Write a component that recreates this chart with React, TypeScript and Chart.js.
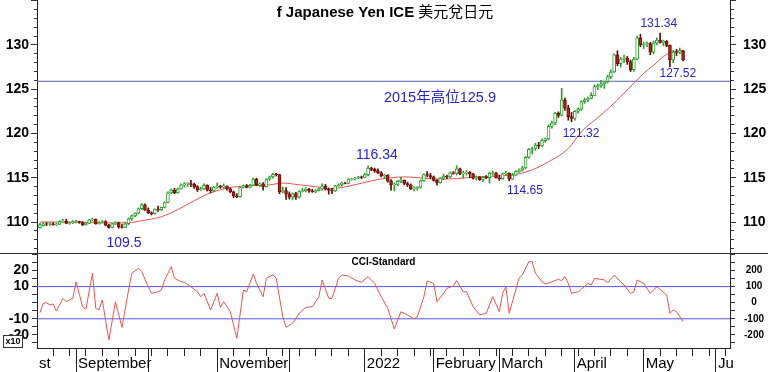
import React, { useEffect, useRef } from 'react';
import { Chart, registerables } from 'chart.js';

Chart.register(...registerables);

// x values: weekday index counted from Wed 1 Sep 2021 (= 0)
const FIRST_DAY = -11;
const X_MIN = -11.9;
const X_MAX = 199.3;

const TITLE_LATIN = 'f Japanese Yen ICE ';
const TITLE_CJK = '美元兌日元';
const CCI_TITLE = 'CCI-Standard';

const opens = [
  109.35, 109.6, 109.8, 109.75, 109.8, 109.7, 109.75, 110.05, 110.1, 109.85, 109.9,
  109.95, 110.05, 109.95, 109.7, 109.85, 110.25, 110.3, 109.8, 109.95, 110.05,
  109.65, 109.4, 109.8, 109.95, 109.45, 109.4, 109.8, 110.35, 110.7, 111.0,
  111.5, 111.95, 111.35, 111.05, 110.95, 111.45, 111.4, 111.65, 112.2, 113.3,
  113.6, 113.3, 113.75, 114.2, 114.3, 114.35, 114.25, 114.0, 113.65, 113.75,
  114.15, 113.6, 113.5, 113.95, 114.05, 113.95, 114.05, 113.75, 113.4, 112.95,
  112.85, 113.9, 114.1, 113.9, 114.15, 114.85, 114.2, 114.3, 114.0, 114.85,
  115.1, 115.4, 115.35, 113.4, 113.55, 113.15, 112.8, 113.2, 112.8, 113.45,
  113.55, 113.7, 113.5, 113.4, 113.55, 113.75, 114.05, 113.7, 113.6, 113.5,
  114.1, 114.2, 114.4, 114.35, 114.8, 114.85, 114.95, 115.1, 115.05, 115.35,
  116.1, 115.95, 115.8, 115.55, 115.2, 115.3, 114.65, 114.2, 114.25, 114.6,
  114.7, 114.35, 114.2, 113.75, 113.85, 113.95, 114.65, 115.35, 115.25, 115.1,
  114.7, 114.45, 114.95, 115.2, 115.1, 115.55, 115.5, 116.0, 115.45, 115.55,
  115.65, 115.45, 114.95, 115.05, 114.75, 115.05, 115.0, 115.5, 115.55, 115.0,
  114.9, 115.45, 115.5, 114.85, 115.3, 115.7, 115.85, 116.1, 117.3, 118.2,
  118.3, 118.7, 118.6, 119.2, 119.4, 120.8, 121.2, 122.3, 122.05, 123.8,
  122.85, 121.9, 121.7, 122.5, 122.75, 123.6, 123.8, 123.95, 124.3, 125.3,
  125.4, 125.6, 125.85, 126.4, 126.95, 128.9, 127.9, 128.4, 128.5, 128.1,
  127.2, 128.4, 130.8, 130.0, 130.05, 130.15, 129.2, 130.2, 130.55, 130.3,
  130.4, 129.95, 128.3, 129.2, 129.15, 129.35,
];

const highs = [
  109.85, 109.95, 109.95, 109.95, 109.95, 109.9, 110.15, 110.3, 110.3, 110.0, 110.15,
  110.2, 110.1, 110.05, 109.95, 110.3, 110.45, 110.35, 110.05, 110.15, 110.15,
  109.75, 109.85, 110.05, 110.0, 109.75, 110.0, 110.45, 110.8, 111.05, 111.6,
  112.1, 112.05, 111.6, 111.15, 111.5, 111.8, 111.7, 112.3, 113.4, 113.75,
  113.8, 113.85, 114.3, 114.45, 114.45, 114.7, 114.4, 114.1, 113.95, 114.3,
  114.2, 113.9, 114.0, 114.4, 114.15, 114.3, 114.1, 113.85, 113.5, 113.2,
  114.0, 114.2, 114.25, 114.25, 114.95, 114.95, 114.4, 114.45, 114.9, 115.2,
  115.5, 115.5, 115.4, 113.95, 113.9, 113.4, 113.3, 113.35, 113.55, 113.8,
  113.9, 113.8, 113.7, 113.65, 113.85, 114.3, 114.25, 113.85, 113.8, 114.15,
  114.3, 114.5, 114.5, 114.9, 114.95, 115.05, 115.15, 115.2, 115.5, 116.35,
  116.2, 116.1, 116.0, 115.7, 115.4, 115.35, 114.8, 114.4, 114.7, 115.05,
  114.75, 114.5, 114.3, 114.0, 114.0, 114.75, 115.45, 115.7, 115.5, 115.2,
  114.8, 115.05, 115.4, 115.3, 115.65, 115.7, 116.35, 116.1, 115.75, 115.8,
  115.7, 115.5, 115.2, 115.15, 115.15, 115.25, 115.65, 115.75, 115.6, 115.3,
  115.55, 115.75, 115.55, 115.5, 115.8, 116.0, 116.3, 117.4, 118.3, 118.45,
  118.9, 119.0, 119.4, 119.5, 121.0, 121.4, 122.4, 122.45, 125.1, 124.0,
  123.2, 122.4, 122.6, 122.9, 123.7, 124.0, 124.1, 124.6, 125.5, 125.6,
  126.0, 125.9, 126.6, 127.2, 129.0, 129.35, 128.6, 128.85, 128.7, 128.3,
  128.6, 131.0, 131.2, 130.3, 130.35, 130.3, 130.45, 130.8, 131.34, 130.55,
  130.5, 130.0, 129.4, 129.5, 129.65, 129.4,
];

const lows = [
  109.3, 109.55, 109.6, 109.6, 109.65, 109.6, 109.7, 109.95, 109.8, 109.75, 109.8,
  109.9, 109.85, 109.6, 109.65, 109.8, 110.1, 109.75, 109.75, 109.9, 109.55,
  109.3, 109.35, 109.7, 109.3, 109.3, 109.35, 109.7, 110.2, 110.6, 110.9,
  111.4, 111.3, 110.95, 110.8, 110.9, 111.2, 111.3, 111.6, 112.15, 113.2,
  113.2, 113.25, 113.7, 113.95, 114.0, 114.0, 113.8, 113.45, 113.55, 113.65,
  113.5, 113.3, 113.4, 113.8, 113.8, 113.8, 113.6, 113.3, 112.75, 112.75,
  112.8, 113.85, 113.85, 113.85, 114.1, 114.1, 114.0, 113.6, 113.95, 114.7,
  114.95, 115.2, 113.2, 113.3, 112.55, 112.6, 112.5, 112.55, 112.7, 113.4,
  113.4, 113.35, 113.35, 113.3, 113.5, 113.6, 113.6, 113.15, 113.2, 113.45,
  114.0, 114.05, 114.3, 114.3, 114.7, 114.75, 114.9, 114.9, 115.0, 115.2,
  115.8, 115.6, 115.45, 115.1, 114.9, 114.5, 113.6, 113.5, 114.1, 114.45,
  114.2, 114.0, 113.65, 113.5, 113.6, 113.8, 114.6, 115.1, 114.9, 114.6,
  114.15, 114.4, 114.75, 114.9, 115.0, 115.4, 115.3, 115.35, 115.0, 115.3,
  115.0, 114.85, 114.75, 114.7, 114.55, 114.9, 114.4, 115.3, 114.95, 114.7,
  114.8, 115.3, 114.65, 114.8, 115.2, 115.6, 115.75, 116.0, 117.2, 117.7,
  118.1, 118.3, 118.5, 119.0, 119.3, 120.6, 121.0, 121.8, 122.0, 122.6,
  121.5, 121.32, 121.5, 122.3, 122.6, 123.4, 123.6, 123.9, 124.3, 124.95,
  125.2, 125.1, 125.7, 126.2, 126.9, 127.65, 127.5, 128.0, 127.8, 127.0,
  127.0, 128.3, 129.8, 129.6, 129.8, 128.9, 129.0, 130.0, 130.2, 129.9,
  129.8, 127.52, 128.0, 128.8, 129.0, 128.2,
];

const closes = [
  109.7, 109.8, 109.75, 109.8, 109.7, 109.75, 110.05, 110.1, 109.85, 109.9, 110.0,
  110.05, 109.95, 109.7, 109.85, 110.25, 110.3, 109.8, 109.95, 110.05, 109.65,
  109.4, 109.8, 109.95, 109.45, 109.4, 109.8, 110.35, 110.7, 111.0, 111.5,
  111.95, 111.35, 111.05, 110.95, 111.45, 111.4, 111.65, 112.2, 113.3, 113.6,
  113.3, 113.75, 114.2, 114.3, 114.35, 114.25, 114.0, 113.65, 113.75, 114.15,
  113.6, 113.5, 113.95, 114.05, 113.95, 114.05, 113.75, 113.4, 112.95, 112.85,
  113.9, 114.1, 113.9, 114.15, 114.85, 114.2, 114.3, 114.0, 114.85, 115.1,
  115.4, 115.35, 113.4, 113.55, 113.15, 112.8, 113.2, 112.8, 113.45, 113.55,
  113.7, 113.5, 113.4, 113.55, 113.75, 114.05, 113.7, 113.6, 113.5, 114.1,
  114.2, 114.4, 114.35, 114.8, 114.85, 114.95, 115.1, 115.05, 115.35, 116.1,
  115.95, 115.8, 115.55, 115.2, 115.3, 114.65, 114.2, 114.25, 114.6, 114.7,
  114.35, 114.2, 113.75, 113.85, 113.95, 114.65, 115.35, 115.25, 115.1, 114.7,
  114.45, 114.95, 115.2, 115.1, 115.55, 115.5, 116.0, 115.45, 115.55, 115.65,
  115.45, 114.95, 115.05, 114.75, 115.05, 115.0, 115.5, 115.55, 115.0, 114.9,
  115.45, 115.5, 114.85, 115.3, 115.7, 115.85, 116.1, 117.3, 118.2, 118.3,
  118.7, 118.6, 119.2, 119.4, 120.8, 121.2, 122.3, 122.05, 123.8, 122.85,
  121.9, 121.7, 122.5, 122.75, 123.6, 123.8, 123.95, 124.3, 125.3, 125.4,
  125.6, 125.85, 126.4, 126.95, 128.9, 127.9, 128.4, 128.5, 128.1, 127.2,
  128.4, 130.8, 130.0, 130.1, 130.15, 129.2, 130.2, 130.55, 130.3, 130.4,
  129.95, 128.3, 129.2, 129.15, 129.35, 128.3,
];

// moving average
const maDays = [-11, 0, 8, 15, 20, 26, 31, 36, 40, 44, 48, 53, 59, 63, 68, 73, 77, 81, 86, 92, 96, 100, 106, 110, 116, 122, 129, 135, 139, 144, 150, 154, 160, 165, 170, 173, 176, 179, 181, 185];
const maValues = [110.0, 110.0, 109.9, 109.9, 110.15, 110.6, 111.4, 112.4, 113.15, 113.65, 113.95, 114.1, 114.2, 114.4, 114.2, 114.0, 113.75, 113.9, 114.3, 114.8, 115.0, 115.1, 114.95, 114.85, 114.9, 115.1, 115.2, 115.45, 115.9, 116.8, 118.3, 120.2, 122.1, 123.8, 125.7, 126.8, 127.7, 128.7, 129.1, 129.4];

// CCI (standard)
const cciDays = [-11, -10, -9, -8, -7, -6, -4, -3, -1, 0, 2, 3, 5, 6, 7, 8, 10, 12, 14, 16, 17, 19, 20, 22, 23, 25, 26, 27, 29, 30, 32, 33, 35, 37, 38, 39, 41, 43, 44, 45, 47, 49, 51, 52, 54, 55, 57, 58, 60, 61, 63, 64, 66, 68, 70, 72, 74, 75, 77, 78, 80, 81, 83, 85, 87, 89, 91, 93, 95, 97, 99, 101, 103, 104, 106, 107, 109, 110, 112, 113, 115, 116, 118, 119, 121, 123, 125, 127, 129, 130, 131, 132, 135, 136, 138, 139, 140, 142, 143, 145, 147, 148, 149, 150, 151, 153, 154, 156, 157, 158, 161, 162, 164, 166, 167, 169, 170, 171, 173, 175, 177, 180, 181, 182, 183, 185];
const cciValues = [-62, -4, 0, -14, -8, -52, 27, 6, 27, 130, -25, -41, 183, -35, -45, 17, -232, 6, -153, 79, 183, 214, 193, 99, 58, 68, 79, 141, 224, 152, 130, 127, 99, 68, 37, 58, -45, 58, -29, 6, -56, -221, 79, 68, 178, 120, 37, 152, 172, 152, -87, -153, -128, -66, -29, -25, 37, 141, 27, 27, 152, 172, 166, 141, 127, 162, 120, 37, -35, -163, -56, -76, -101, -87, 37, 135, 120, 6, 58, 89, 104, 137, 68, 68, -25, -76, -66, 37, -56, 58, 99, -66, 152, 172, 255, 255, 183, 130, 116, 130, 145, 137, 162, 120, 58, 68, 83, 120, 110, 152, 141, 124, 172, 130, 110, 58, 68, 141, 120, 58, 99, 48, -66, -45, -56, -118];

const HIGH_2015 = 125.9;
const CCI_UPPER = 100;
const CCI_LOWER = -100;

// x-axis ticks (month starts) and their labels
const monthDays = [X_MIN, 0, 22, 43, 65, 88, 109, 129, 152, 173, 195];
const monthLabels = ['st', 'September', '', 'November', '', '2022', 'February', 'March', 'April', 'May', 'Ju'];

const priceLabels = [110, 115, 120, 125, 130];
const cciLeftValues = [200, 100, -100, -200];
const cciLeftTexts = ['20', '10', '-10', '-20'];
const cciRightValues = [200, 100, 0, -100, -200];

// annotations (text, weekday index, price)
const noteTexts = ['131.34', '127.52', '2015年高位125.9', '121.32', '116.34', '114.65', '109.5'];
const noteDays = [177.6, 183.4, 110.9, 153.9, 91.7, 136.8, 14.6];
const noteValues = [132.37, 126.72, 124.01, 119.94, 117.57, 113.5, 107.63];
const noteSizes = [12, 12, 14.5, 12, 14, 12, 14];

const FONT = '"Liberation Sans", Arial, "Noto Sans CJK TC", sans-serif';
const NOTE_COLOR = '#2626c4';
const UP_COLOR = '#2f9e2f';
const DOWN_FILL = '#b02418';
const DOWN_EDGE = '#6e0f08';

const mainTextPlugin = {
  id: 'mainText',
  afterDatasetsDraw(chart: any) {
    const { ctx, chartArea } = chart;
    const xs = chart.scales.x;
    const ys = chart.scales.y;
    ctx.save();
    ctx.fillStyle = NOTE_COLOR;
    ctx.textAlign = 'center';
    ctx.textBaseline = 'middle';
    noteTexts.forEach((t, k) => {
      ctx.font = `${noteSizes[k]}px ${FONT}`;
      ctx.fillText(t, xs.getPixelForValue(noteDays[k]), ys.getPixelForValue(noteValues[k]));
    });
    // title
    const boldFont = `bold 15px ${FONT}`;
    const cjkFont = `15px "Noto Sans CJK TC", sans-serif`;
    ctx.font = boldFont;
    const w1 = ctx.measureText(TITLE_LATIN).width;
    ctx.font = cjkFont;
    const w2 = ctx.measureText(TITLE_CJK).width;
    const cx = (chartArea.left + chartArea.right) / 2 + 1.5;
    const x0 = cx - (w1 + w2) / 2;
    ctx.textAlign = 'left';
    ctx.textBaseline = 'alphabetic';
    ctx.fillStyle = '#000';
    ctx.font = boldFont;
    ctx.fillText(TITLE_LATIN, x0, chartArea.top + 17);
    ctx.font = cjkFont;
    ctx.fillText(TITLE_CJK, x0 + w1, chartArea.top + 17);
    ctx.restore();
  },
};

const cciTextPlugin = {
  id: 'cciText',
  afterDraw(chart: any) {
    const { ctx, chartArea } = chart;
    ctx.save();
    ctx.fillStyle = '#000';
    ctx.font = `bold 10px ${FONT}`;
    ctx.textAlign = 'center';
    ctx.textBaseline = 'alphabetic';
    ctx.fillText(CCI_TITLE, (chartArea.left + chartArea.right) / 2, chartArea.top + 12);
    // "x10" scale box
    ctx.fillStyle = '#fff';
    ctx.fillRect(3, 82, 19, 12);
    ctx.strokeStyle = '#333';
    ctx.lineWidth = 1;
    ctx.strokeRect(3.5, 82.5, 19, 12);
    ctx.fillStyle = '#000';
    ctx.font = `bold 9px ${FONT}`;
    ctx.textBaseline = 'middle';
    ctx.fillText('x10', 13, 89);
    ctx.restore();
  },
};

function priceAxis(position: 'left' | 'right') {
  const isLeft = position === 'left';
  return {
    type: 'linear',
    position,
    min: 106.5,
    max: 135.08,
    afterBuildTicks: (s: any) => {
      const t = [];
      for (let v = 107; v <= 135; v++) t.push({ value: v });
      s.ticks = t;
    },
    afterFit: (s: any) => {
      s.width = isLeft ? 37 : 38;
      s.paddingTop = 0;
      s.paddingBottom = 0;
    },
    ticks: {
      autoSkip: false,
      color: '#000',
      padding: isLeft ? 2 : 7,
      font: { family: FONT, size: 14, weight: 'bold' },
      callback: (v: number) => (priceLabels.includes(v) ? String(v) : ''),
    },
    grid: {
      drawOnChartArea: false,
      tickLength: 6,
      tickColor: '#333',
      tickWidth: 1,
      tickBorderDash: (c: any) => {
        const v = c.tick ? c.tick.value : 0;
        if (v % 5 === 0) return [];
        return isLeft ? [0, 3, 3, 100] : [3, 100];
      },
    },
    border: { display: true, color: '#222', width: 1 },
  };
}

function cciAxis(position: 'left' | 'right') {
  const isLeft = position === 'left';
  return {
    type: 'linear',
    position,
    min: -281.4,
    max: 308.7,
    afterBuildTicks: (s: any) => {
      const t = [];
      for (let v = -250; v <= 300; v += 50) t.push({ value: v });
      s.ticks = t;
    },
    afterFit: (s: any) => {
      s.width = isLeft ? 37 : 38;
      s.paddingTop = 0;
      s.paddingBottom = 0;
    },
    ticks: isLeft
      ? {
          autoSkip: false,
          color: '#000',
          padding: 3,
          font: { family: FONT, size: 14, weight: 'bold' },
          callback: (v: number) => {
            const k = cciLeftValues.indexOf(v);
            return k >= 0 ? cciLeftTexts[k] : '';
          },
        }
      : {
          autoSkip: false,
          color: '#000',
          padding: 9,
          crossAlign: 'center',
          font: { family: FONT, size: 10, weight: 'bold' },
          callback: (v: number) => (cciRightValues.includes(v) ? String(v) : ''),
        },
    grid: {
      drawOnChartArea: false,
      tickLength: 5,
      tickColor: '#333',
      tickWidth: 1,
    },
    border: { display: true, color: '#222', width: 1 },
  };
}

export default function App() {
  const mainRef = useRef<HTMLCanvasElement>(null);
  const cciRef = useRef<HTMLCanvasElement>(null);

  useEffect(() => {
    const days = opens.map((_, k) => FIRST_DAY + k);
    const up = opens.map((o, k) => closes[k] >= o);

    const main = new Chart(mainRef.current as HTMLCanvasElement, {
      type: 'bar',
      data: {
        datasets: [
          {
            label: 'body',
            data: days.map((d, k) => ({ x: d, y: [opens[k], closes[k]] })),
            backgroundColor: up.map((u) => (u ? '#ffffff' : DOWN_FILL)),
            borderColor: up.map((u) => (u ? UP_COLOR : DOWN_EDGE)),
            borderWidth: 1,
            borderSkipped: false,
            barThickness: 3,
            grouped: false,
            order: 1,
          } as any,
          {
            label: 'wick',
            data: days.map((d, k) => ({ x: d, y: [lows[k], highs[k]] })),
            backgroundColor: up.map((u) => (u ? UP_COLOR : '#5a0c06')),
            borderWidth: 0,
            barThickness: 1,
            grouped: false,
            order: 2,
          } as any,
          {
            type: 'line',
            label: 'MA',
            data: maDays.map((d, k) => ({ x: d, y: maValues[k] })),
            borderColor: '#e8554f',
            borderWidth: 1,
            pointRadius: 0,
            cubicInterpolationMode: 'monotone',
            order: 3,
          } as any,
          {
            type: 'line',
            label: '2015 high',
            data: [
              { x: X_MIN, y: HIGH_2015 },
              { x: X_MAX, y: HIGH_2015 },
            ],
            borderColor: '#5b5bb8',
            borderWidth: 1,
            pointRadius: 0,
            order: 4,
          } as any,
        ],
      },
      options: {
        responsive: false,
        animation: false,
        devicePixelRatio: 1,
        layout: { padding: 0 },
        plugins: { legend: { display: false }, tooltip: { enabled: false }, title: { display: false } },
        scales: {
          x: { type: 'linear', min: X_MIN, max: X_MAX, display: false, offset: false },
          y: priceAxis('left'),
          yR: priceAxis('right'),
        } as any,
      },
      plugins: [mainTextPlugin],
    });

    const cci = new Chart(cciRef.current as HTMLCanvasElement, {
      type: 'line',
      data: {
        datasets: [
          {
            label: 'CCI',
            data: cciDays.map((d, k) => ({ x: d, y: cciValues[k] })),
            borderColor: '#e8554f',
            borderWidth: 1,
            pointRadius: 0,
            tension: 0,
            order: 1,
          },
          {
            label: '+100',
            data: [
              { x: X_MIN, y: CCI_UPPER },
              { x: X_MAX, y: CCI_UPPER },
            ],
            borderColor: '#5656e0',
            borderWidth: 1,
            pointRadius: 0,
            order: 2,
          },
          {
            label: '-100',
            data: [
              { x: X_MIN, y: CCI_LOWER },
              { x: X_MAX, y: CCI_LOWER },
            ],
            borderColor: '#5656e0',
            borderWidth: 1,
            pointRadius: 0,
            order: 2,
          },
        ],
      },
      options: {
        responsive: false,
        animation: false,
        devicePixelRatio: 1,
        layout: { padding: 0 },
        plugins: { legend: { display: false }, tooltip: { enabled: false }, title: { display: false } },
        scales: {
          x: {
            type: 'linear',
            position: 'bottom',
            min: X_MIN,
            max: X_MAX,
            offset: false,
            afterBuildTicks: (s: any) => {
              const t = monthDays.map((v) => ({ value: v }));
              for (let d = -7; d <= X_MAX; d += 5) {
                if (!monthDays.includes(d)) t.push({ value: d });
              }
              t.sort((a, b) => a.value - b.value);
              s.ticks = t;
            },
            afterFit: (s: any) => {
              s.height = 24;
              s.paddingLeft = 0;
              s.paddingRight = 0;
            },
            ticks: {
              autoSkip: false,
              maxRotation: 0,
              minRotation: 0,
              align: 'start',
              labelOffset: 2,
              padding: -17.5,
              color: '#000',
              font: { family: FONT, size: 15 },
              callback: (v: number) => {
                const k = monthDays.indexOf(v);
                return k >= 0 ? monthLabels[k] : '';
              },
            },
            grid: {
              drawOnChartArea: false,
              tickLength: 24,
              tickColor: '#222',
              tickWidth: 1,
              tickBorderDash: (c: any) => {
                const v = c.tick ? c.tick.value : 0;
                if (v === X_MIN) return [0, 100];
                return monthDays.includes(v) ? [] : [7, 100];
              },
            },
            border: { display: true, color: '#222', width: 1 },
          },
          y: cciAxis('left'),
          yR: cciAxis('right'),
        } as any,
      },
      plugins: [cciTextPlugin],
    });

    return () => {
      main.destroy();
      cci.destroy();
    };
  }, []);

  return (
    <div style={{ position: 'absolute', left: 0, top: 0, width: 768, height: 372, background: '#fff', overflow: 'hidden' }}>
      <canvas ref={mainRef} width={768} height={253} style={{ position: 'absolute', left: 0, top: 0 }} />
      <canvas ref={cciRef} width={768} height={119} style={{ position: 'absolute', left: 0, top: 253 }} />
      <div style={{ position: 'absolute', left: 0, top: 253, width: 768, height: 1, background: '#333' }} />
    </div>
  );
}
